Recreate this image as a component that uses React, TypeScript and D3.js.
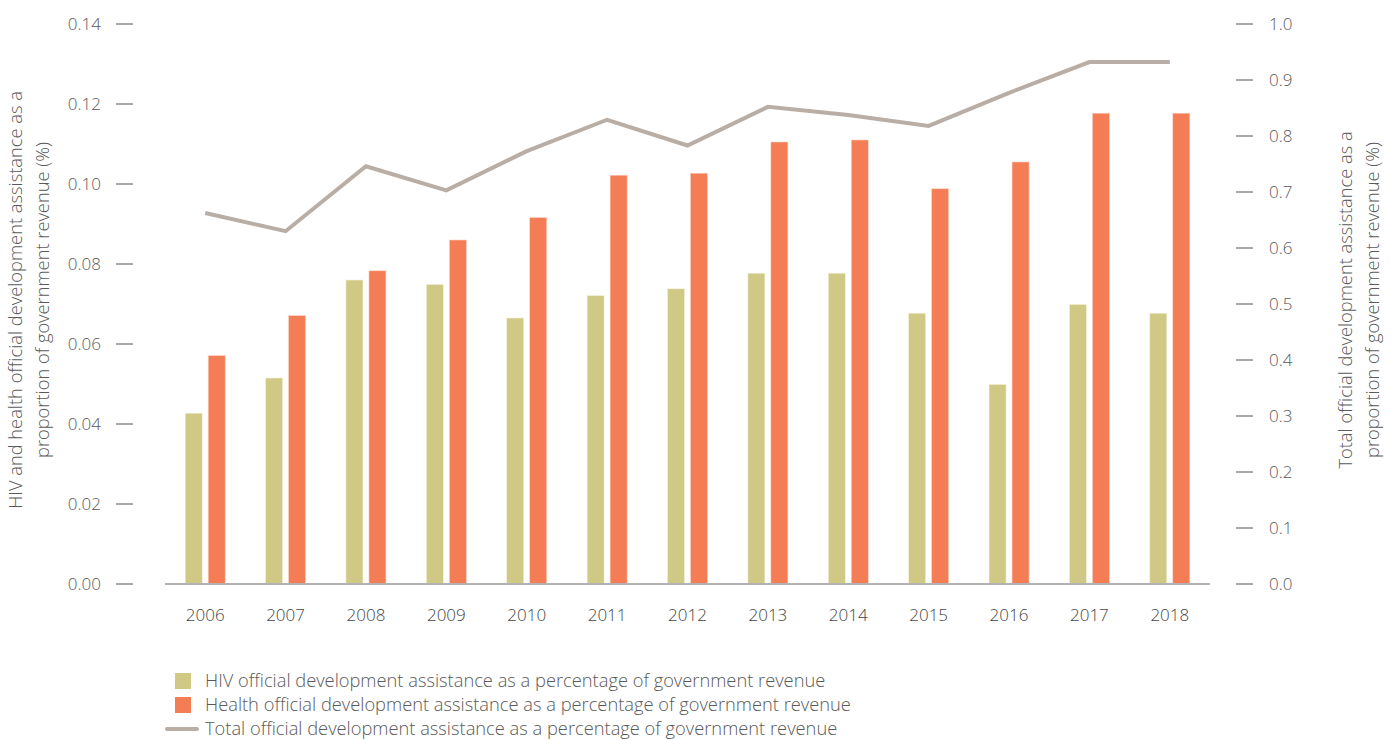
import React from "react";
import * as d3 from "d3";

const years = ["2006","2007","2008","2009","2010","2011","2012","2013","2014","2015","2016","2017","2018"];
const hivValues = [0.0427,0.0515,0.076,0.0749,0.0665,0.0721,0.0738,0.0777,0.0777,0.0677,0.0499,0.0699,0.0677];
const healthValues = [0.0571,0.0671,0.0783,0.086,0.0916,0.1022,0.1027,0.1105,0.111,0.0988,0.1055,0.1177,0.1177];
const totalValues = [0.6625,0.630,0.746,0.703,0.773,0.829,0.783,0.852,0.8375,0.818,0.877,0.932,0.932];
const leftTicks = [0,0.02,0.04,0.06,0.08,0.1,0.12,0.14];
const rightTicks = [0,0.1,0.2,0.3,0.4,0.5,0.6,0.7,0.8,0.9,1.0];
const legendItems = [
  "HIV official development assistance as a percentage of government revenue",
  "Health official development assistance as a percentage of government revenue",
  "Total official development assistance as a percentage of government revenue",
];

const W = 1391, H = 740;
const HIV_COLOR = "#cfc985";
const HEALTH_COLOR = "#f47d55";
const LINE_COLOR = "#b8aea6";
const TEXT = "#5a5a5a";
const FONT = "'Open Sans', sans-serif";
const BIG = 18.3;
const TICK = 17;

export default function App() {
  const x = d3.scaleBand<string>().domain(years).range([165, 1210]).padding(0);
  const yL = d3.scaleLinear().domain([0, 0.14]).range([584, 24]);
  const yR = d3.scaleLinear().domain([0, 1.0]).range([584, 24]);
  const barW = 17;
  const gap = 6;
  const line = d3.line<number>()
    .x((_, i) => (x(years[i]) as number) + x.bandwidth() / 2)
    .y((d) => yR(d));

  return (
    <svg width={W} height={H} style={{ position: "absolute", left: 0, top: 0, fontFamily: FONT }}>
      <rect width={W} height={H} fill="#fff" />
      {/* left axis */}
      {leftTicks.map((t) => (
        <g key={"l" + t}>
          <line x1={116} x2={133} y1={yL(t)} y2={yL(t)} stroke="#555" strokeWidth={1} />
          <text x={101} y={yL(t)} dy="0.35em" textAnchor="end" fontSize={TICK} fontWeight={300} fill={TEXT}>
            {t.toFixed(2)}
          </text>
        </g>
      ))}
      {/* right axis */}
      {rightTicks.map((t) => (
        <g key={"r" + t}>
          <line x1={1236} x2={1253} y1={yR(t)} y2={yR(t)} stroke="#555" strokeWidth={1} />
          <text x={1269} y={yR(t)} dy="0.35em" textAnchor="start" fontSize={TICK} fontWeight={300} fill={TEXT}>
            {t.toFixed(1)}
          </text>
        </g>
      ))}
      {/* axis titles */}
      <text transform="translate(22,300) rotate(-90)" textAnchor="middle" fontSize={BIG} fontWeight={300} fill={TEXT}>
        <tspan x={0} dy={0}>HIV and health official development assistance as a</tspan>
        <tspan x={0} dy={27}>proportion of government revenue (%)</tspan>
      </text>
      <text transform="translate(1352,300) rotate(-90)" textAnchor="middle" fontSize={BIG} fontWeight={300} fill={TEXT}>
        <tspan x={0} dy={0}>Total official development assistance as a</tspan>
        <tspan x={0} dy={27}>proportion of government revenue (%)</tspan>
      </text>
      {/* bars */}
      {years.map((yr, i) => {
        const cx = (x(yr) as number) + x.bandwidth() / 2;
        return (
          <g key={yr}>
            <rect x={cx - gap / 2 - barW} y={yL(hivValues[i])} width={barW} height={yL(0) - yL(hivValues[i])}
              fill={HIV_COLOR} stroke="#f3f0d8" strokeWidth={0.6} />
            <rect x={cx + gap / 2} y={yL(healthValues[i])} width={barW} height={yL(0) - yL(healthValues[i])}
              fill={HEALTH_COLOR} stroke="#fbd2c2" strokeWidth={0.6} />
            <text x={cx} y={621} textAnchor="middle" fontSize={TICK} fontWeight={300} fill="#444">{yr}</text>
          </g>
        );
      })}
      {/* baseline */}
      <line x1={165} x2={1210} y1={yL(0)} y2={yL(0)} stroke="#b3b3b3" strokeWidth={2} />
      {/* total line */}
      <path d={line(totalValues) || ""} fill="none" stroke={LINE_COLOR} strokeWidth={4} strokeLinejoin="miter" />
      {/* legend */}
      <rect x={175} y={673} width={16} height={16} fill={HIV_COLOR} />
      <rect x={175} y={697} width={16} height={16} fill={HEALTH_COLOR} />
      <line x1={167} x2={197} y1={729} y2={729} stroke={LINE_COLOR} strokeWidth={4} strokeLinecap="round" />
      {legendItems.map((t, i) => (
        <text key={t} x={205} y={681 + i * 24} dy="0.35em" fontSize={BIG} fontWeight={300} fill={TEXT}>{t}</text>
      ))}
    </svg>
  );
}
